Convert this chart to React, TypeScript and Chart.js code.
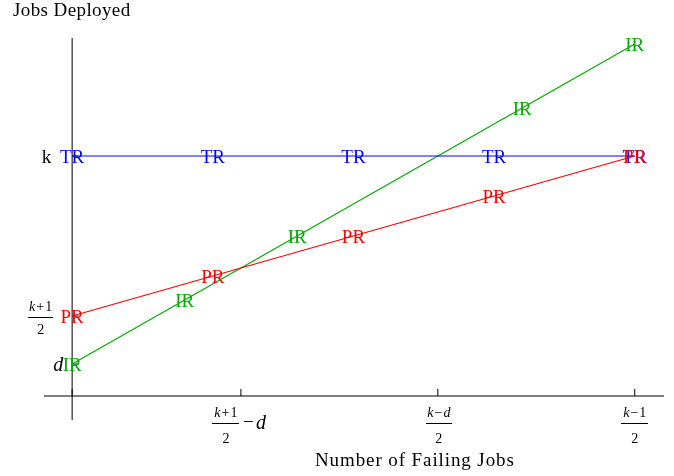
import React, { useEffect, useRef } from "react";
import { Chart, registerables } from "chart.js";

Chart.register(...registerables);

// Symbolic model drawn with k = 21, d = 8.
// Horizontal axis: number of failing jobs, 0 … (k-1)/2 = 10.
// Vertical axis: jobs deployed.
const trX = [0, 2.5, 5, 7.5, 10];
const trY = [21, 21, 21, 21, 21];
const prX = [0, 2.5, 5, 7.5, 10];
const prY = [11, 13.5, 16, 18.5, 21];
const irX = [0, 2, 4, 8, 10];
const irY = [8, 12, 16, 24, 28];

const seriesNames = ["TR", "PR", "IR"];
const seriesColors = ["#0000ff", "#ff0000", "#00aa00"];

// tick positions: (k+1)/2 - d, (k-d)/2, (k-1)/2  and  k, (k+1)/2, d
const xTickValues = [3, 6.5, 10];
const yTickValues = [21, 11, 8];

const xTitle = "Number of Failing Jobs";
const yTitle = "Jobs Deployed";

const X_MIN = -0.5;
const X_MAX = 10.52;
const Y_MIN = 4.5;
const Y_MAX = 28.375;
const AXIS_X_AT_Y = 6; // where the horizontal axis crosses
const AXIS_Y_AT_X = 0; // where the vertical axis crosses

const SERIF = "'Liberation Serif', 'Times New Roman', serif";

type Run = { t: string; it?: boolean };

function setFont(ctx: CanvasRenderingContext2D, size: number, italic?: boolean) {
  ctx.font = `${italic ? "italic " : ""}${size}px ${SERIF}`;
}

function runsWidth(ctx: CanvasRenderingContext2D, runs: Run[], size: number, gap: number) {
  let w = 0;
  runs.forEach((r, i) => {
    setFont(ctx, size, r.it);
    w += ctx.measureText(r.t).width + (i > 0 ? gap : 0);
  });
  return w;
}

function drawRuns(
  ctx: CanvasRenderingContext2D,
  runs: Run[],
  cx: number,
  baseline: number,
  size: number,
  gap: number
) {
  const w = runsWidth(ctx, runs, size, gap);
  let x = cx - w / 2;
  ctx.textAlign = "left";
  ctx.textBaseline = "alphabetic";
  runs.forEach((r) => {
    setFont(ctx, size, r.it);
    ctx.fillText(r.t, x, baseline);
    x += ctx.measureText(r.t).width + gap;
  });
}

function drawFraction(
  ctx: CanvasRenderingContext2D,
  num: Run[],
  den: Run[],
  cx: number,
  barY: number,
  barW: number,
  denOffset: number
) {
  const size = 14;
  drawRuns(ctx, num, cx, barY - 6, size, 1);
  ctx.fillRect(Math.round(cx - barW / 2), Math.round(barY), barW, 1);
  drawRuns(ctx, den, cx, barY + denOffset, size, 0);
}

const kPlusOne: Run[] = [{ t: "k", it: true }, { t: "+" }, { t: "1" }];
const kMinusOne: Run[] = [{ t: "k", it: true }, { t: "\u2212" }, { t: "1" }];
const kMinusD: Run[] = [{ t: "k", it: true }, { t: "\u2212" }, { t: "d", it: true }];
const two: Run[] = [{ t: "2" }];

const axesPlugin = {
  id: "mathAxes",
  beforeDatasetsDraw(chart: any) {
    const ctx: CanvasRenderingContext2D = chart.ctx;
    const xs = chart.scales.x;
    const ys = chart.scales.y;
    const area = chart.chartArea;
    const ax = xs.getPixelForValue(AXIS_Y_AT_X);
    const ay = ys.getPixelForValue(AXIS_X_AT_Y);
    ctx.save();
    ctx.strokeStyle = "#000";
    ctx.lineWidth = 1;
    ctx.beginPath();
    ctx.moveTo(area.left, ay);
    ctx.lineTo(area.right, ay);
    ctx.moveTo(ax, area.top);
    ctx.lineTo(ax, area.bottom);
    // x ticks point up from the axis
    [AXIS_Y_AT_X, ...xTickValues].forEach((v) => {
      const px = xs.getPixelForValue(v);
      ctx.moveTo(px, ay);
      ctx.lineTo(px, ay - 7);
    });
    // y ticks point right from the axis
    yTickValues.forEach((v) => {
      const py = ys.getPixelForValue(v);
      ctx.moveTo(ax, py);
      ctx.lineTo(ax + 6, py);
    });
    ctx.stroke();
    ctx.restore();
  },
  afterDatasetsDraw(chart: any) {
    const ctx: CanvasRenderingContext2D = chart.ctx;
    const xs = chart.scales.x;
    const ys = chart.scales.y;
    const ax = xs.getPixelForValue(AXIS_Y_AT_X);
    const ay = ys.getPixelForValue(AXIS_X_AT_Y);
    ctx.save();

    // text markers on each series point
    chart.data.datasets.forEach((ds: any, i: number) => {
      const meta = chart.getDatasetMeta(i);
      ctx.fillStyle = ds.borderColor;
      setFont(ctx, 19);
      ctx.textAlign = "center";
      ctx.textBaseline = "alphabetic";
      meta.data.forEach((pt: any) => {
        ctx.fillText(ds.label, pt.x, pt.y + 6.5);
      });
    });

    ctx.fillStyle = "#000";

    // x tick labels
    const barY = ay + 27;
    const x0 = xs.getPixelForValue(xTickValues[0]);
    drawFraction(ctx, kPlusOne, two, x0 - 15, barY, 27, 20);
    setFont(ctx, 19);
    ctx.textAlign = "left";
    ctx.textBaseline = "alphabetic";
    ctx.fillText("\u2212", x0 + 2, barY + 5);
    setFont(ctx, 20, true);
    ctx.fillText("d", x0 + 15, barY + 6);

    const x1 = xs.getPixelForValue(xTickValues[1]);
    drawFraction(ctx, kMinusD, two, x1 + 1, barY, 26, 20);
    const x2 = xs.getPixelForValue(xTickValues[2]);
    drawFraction(ctx, kMinusOne, two, x2, barY, 27, 20);

    // y tick labels
    const yk = ys.getPixelForValue(yTickValues[0]);
    setFont(ctx, 19);
    ctx.textAlign = "right";
    ctx.fillText("k", ax - 21, yk + 6.5);

    const yh = ys.getPixelForValue(yTickValues[1]);
    drawFraction(ctx, kPlusOne, two, ax - 31.5, yh + 1, 25, 17);

    const yd = ys.getPixelForValue(yTickValues[2]);
    setFont(ctx, 20, true);
    ctx.textAlign = "right";
    ctx.fillText("d", ax - 9, yd + 7);

    // axis titles
    setFont(ctx, 19);
    ctx.textAlign = "left";
    (ctx as any).letterSpacing = "0.4px";
    ctx.fillText(yTitle, 13, 16);
    (ctx as any).letterSpacing = "0.9px";
    ctx.fillText(xTitle, 315, 466);
    (ctx as any).letterSpacing = "0px";

    ctx.restore();
  },
};

function points(xs: number[], ys: number[]) {
  return xs.map((x, i) => ({ x, y: ys[i] }));
}

export default function App() {
  const canvasRef = useRef<HTMLCanvasElement | null>(null);

  useEffect(() => {
    document.body.style.margin = "0";
    const canvas = canvasRef.current;
    if (!canvas) return;
    const seriesPoints = [points(trX, trY), points(prX, prY), points(irX, irY)];
    const chart = new Chart(canvas, {
      type: "line",
      data: {
        datasets: seriesPoints.map((data, i) => ({
          label: seriesNames[i],
          data,
          borderColor: seriesColors[i],
          backgroundColor: seriesColors[i],
          borderWidth: 1.2,
          pointRadius: 0,
          tension: 0,
          fill: false,
        })),
      },
      options: {
        responsive: false,
        animation: false,
        layout: { padding: { left: 44, right: 10, top: 38, bottom: 56 } },
        plugins: {
          legend: { display: false },
          title: { display: false },
          tooltip: { enabled: false },
        },
        scales: {
          x: { type: "linear", min: X_MIN, max: X_MAX, display: false },
          y: { type: "linear", min: Y_MIN, max: Y_MAX, display: false },
        },
      },
      plugins: [axesPlugin],
    });
    return () => chart.destroy();
  }, []);

  return (
    <div style={{ width: 674, height: 476, background: "#fff" }}>
      <canvas ref={canvasRef} width={674} height={476} />
    </div>
  );
}
